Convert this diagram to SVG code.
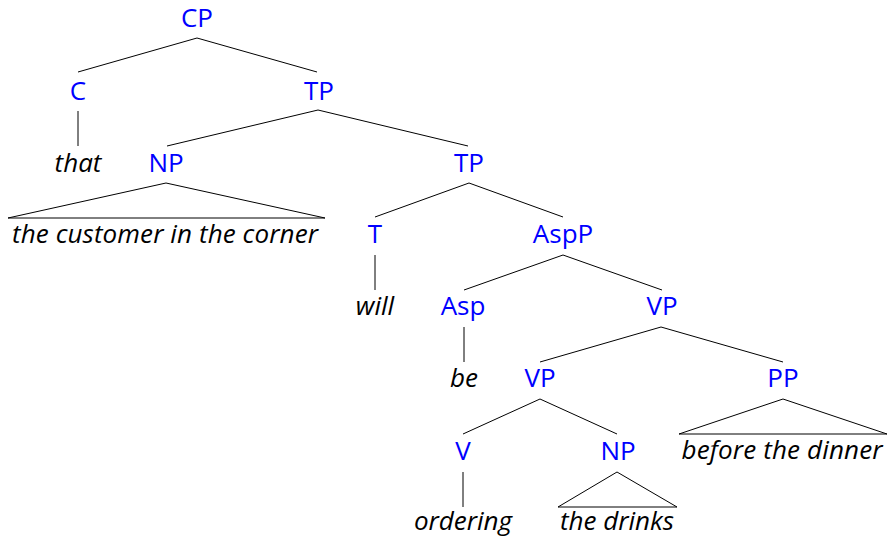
<svg xmlns="http://www.w3.org/2000/svg" width="888" height="538" viewBox="0 0 888 538">
<style>
text{font-family:"Open Sans","Noto Sans",sans-serif;font-size:26px;text-anchor:middle}
.cat{fill:#0000FF}
.w{fill:#000;font-style:italic}
#connectors line,#connectors polygon{stroke:#000;stroke-width:1;fill:none}
</style>
<rect width="888" height="538" fill="#fff"/>
<g id="connectors">
<line x1="197" y1="38" x2="78" y2="72"/>
<line x1="197" y1="38" x2="317" y2="72"/>
<line x1="78" y1="111" x2="78" y2="146"/>
<line x1="318" y1="110" x2="167" y2="146"/>
<line x1="318" y1="110" x2="468" y2="146"/>
<polygon points="166,183 8,218 325,218"/>
<line x1="469" y1="183" x2="375" y2="217"/>
<line x1="469" y1="183" x2="563" y2="217"/>
<line x1="375" y1="255" x2="375" y2="290"/>
<line x1="563" y1="255" x2="464" y2="290"/>
<line x1="563" y1="255" x2="662" y2="290"/>
<line x1="464" y1="327" x2="464" y2="362"/>
<line x1="661" y1="327" x2="540" y2="362"/>
<line x1="661" y1="327" x2="783" y2="362"/>
<line x1="540" y1="399" x2="463" y2="434"/>
<line x1="540" y1="399" x2="617" y2="434"/>
<polygon points="783,399 679,434 887,434"/>
<line x1="463" y1="472" x2="463" y2="507"/>
<polygon points="617,472 558,507 677,507"/>
</g>
<g id="n-CP"><text class="cat" x="197" y="27">CP</text></g>
<g id="n-C"><text class="cat" x="78" y="100">C</text></g>
<g id="n-TP1"><text class="cat" x="319" y="100">TP</text></g>
<g id="n-that"><text class="w" x="78" y="172">that</text></g>
<g id="n-NP1"><text class="cat" x="166" y="172">NP</text></g>
<g id="n-TP2"><text class="cat" x="469" y="172">TP</text></g>
<g id="n-customer"><text class="w" x="165" y="243" textLength="306">the customer in the corner</text></g>
<g id="n-T"><text class="cat" x="375" y="243">T</text></g>
<g id="n-AspP"><text class="cat" x="563" y="243">AspP</text></g>
<g id="n-will"><text class="w" x="375" y="315">will</text></g>
<g id="n-Asp"><text class="cat" x="463" y="315">Asp</text></g>
<g id="n-VP1"><text class="cat" x="662" y="315">VP</text></g>
<g id="n-be"><text class="w" x="464" y="387">be</text></g>
<g id="n-VP2"><text class="cat" x="540" y="387">VP</text></g>
<g id="n-PP"><text class="cat" x="783" y="387">PP</text></g>
<g id="n-V"><text class="cat" x="463" y="460">V</text></g>
<g id="n-NP2"><text class="cat" x="618" y="460">NP</text></g>
<g id="n-dinner"><text class="w" x="782" y="459" textLength="201">before the dinner</text></g>
<g id="n-ordering"><text class="w" x="463" y="530" textLength="98">ordering</text></g>
<g id="n-drinks"><text class="w" x="617" y="530" textLength="114">the drinks</text></g>
</svg>
